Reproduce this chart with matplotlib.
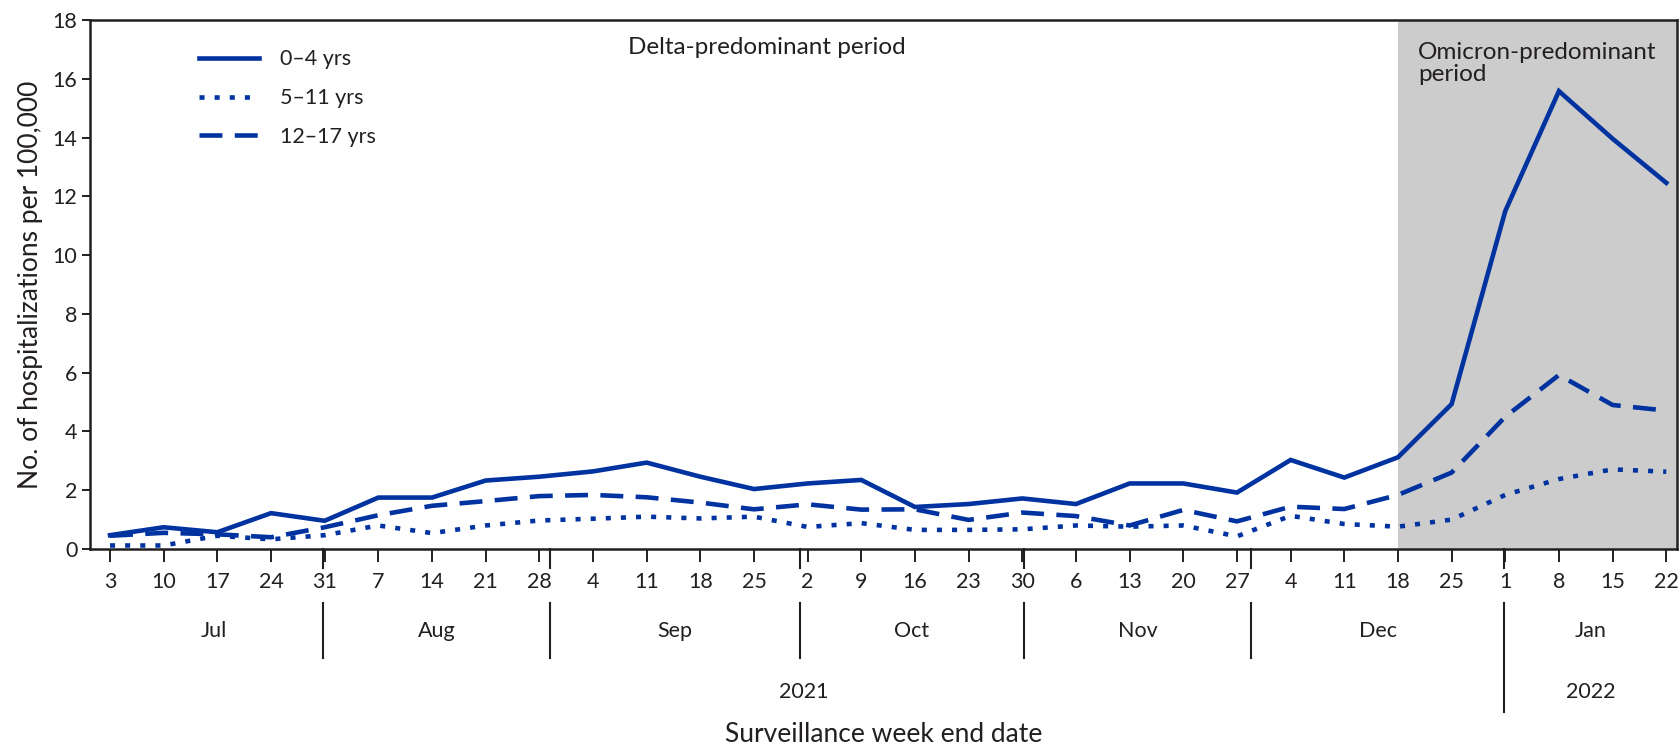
import matplotlib
matplotlib.use("Agg")
import matplotlib.pyplot as plt

plt.rcParams['font.family'] = ['Lato', 'DejaVu Sans']

# week end dates, 3 Jul 2021 .. 22 Jan 2022
day_labels = ['3', '10', '17', '24', '31', '7', '14', '21', '28', '4', '11', '18', '25',
              '2', '9', '16', '23', '30', '6', '13', '20', '27', '4', '11', '18', '25',
              '1', '8', '15', '22']
months = ['Jul', 'Aug', 'Sep', 'Oct', 'Nov', 'Dec', 'Jan']
years = ['2021', '2022']

age_0_4 = [0.47, 0.74, 0.57, 1.22, 0.96, 1.75, 1.75, 2.33, 2.46, 2.64, 2.94, 2.46, 2.04,
           2.23, 2.35, 1.43, 1.53, 1.72, 1.53, 2.23, 2.23, 1.92, 3.03, 2.43, 3.12, 4.93,
           11.5, 15.58, 13.96, 12.46]
age_5_11 = [0.12, 0.12, 0.45, 0.33, 0.47, 0.8, 0.54, 0.8, 0.97, 1.03, 1.1, 1.04, 1.1,
            0.75, 0.88, 0.65, 0.65, 0.67, 0.8, 0.76, 0.8, 0.43, 1.13, 0.85, 0.76, 1.0,
            1.84, 2.38, 2.71, 2.63]
age_12_17 = [0.45, 0.55, 0.5, 0.4, 0.74, 1.15, 1.47, 1.63, 1.8, 1.84, 1.76, 1.58, 1.35,
             1.52, 1.34, 1.35, 0.99, 1.24, 1.12, 0.8, 1.33, 0.94, 1.44, 1.36, 1.84, 2.6,
             4.5, 5.92, 4.9, 4.71]

omicron_start = 24  # week ending Dec 18

blue = '#0033a0'
ink = '#231f20'
x = list(range(len(day_labels)))

fig = plt.figure(figsize=(16.81, 7.45), dpi=100)
ax = fig.add_axes([90 / 1681, 196 / 745, 1587 / 1681, 529 / 745])
xmax = 29.2
ax.set_xlim(-0.373, xmax)
ax.set_ylim(0, 18)

ax.axvspan(omicron_start, xmax, color='#cccccc', zorder=0, lw=0)

ax.plot(x, age_0_4, color=blue, lw=3.3, solid_joinstyle='miter', label='0\u20134 yrs')
ax.plot(x, age_5_11, color=blue, lw=3.3, ls=(0, (1.1, 2.2)), dash_capstyle='butt',
        label='5\u201311 yrs')
ax.plot(x, age_12_17, color=blue, lw=3.3, ls=(0, (5, 2.7)), dash_capstyle='butt',
        label='12\u201317 yrs')

for s in ax.spines.values():
    s.set_linewidth(1.8)
    s.set_color(ink)

fs = 15.5
ax.set_yticks(range(0, 19, 2))
ax.set_xticks(x)
ax.set_xticklabels(day_labels)
ax.tick_params(axis='y', length=6, width=1.4, color=ink, labelsize=fs, labelcolor=ink, pad=3)
ax.tick_params(axis='x', length=9.5, width=1.4, color=ink, labelsize=fs, labelcolor=ink, pad=7)
ax.set_ylabel('No. of hospitalizations per 100,000', fontsize=19, color=ink, labelpad=7)

# month / year separators and labels
bounds = [-0.1, 3.97, 8.2, 12.85, 17.04, 21.27, 25.97, xmax]
tr = ax.get_xaxis_transform()
for i, b in enumerate(bounds[1:-1]):
    ax.plot([b, b], [0, -0.036], color=ink, lw=1.5, transform=tr, clip_on=False)
    low = -0.308 if i == len(bounds) - 3 else -0.206
    ax.plot([b, b], [-0.102, low], color=ink, lw=1.5, transform=tr, clip_on=False)
for i, m in enumerate(months):
    ax.text((bounds[i] + bounds[i + 1]) / 2, -0.155, m, transform=tr, ha='center',
            va='center', fontsize=fs, color=ink)
ax.text((bounds[0] + bounds[-2]) / 2, -0.27, years[0], transform=tr, ha='center',
        va='center', fontsize=fs, color=ink)
ax.text((bounds[-2] + bounds[-1]) / 2, -0.27, years[1], transform=tr, ha='center',
        va='center', fontsize=fs, color=ink)
ax.text(0.5, -0.35, 'Surveillance week end date', transform=ax.transAxes, ha='center',
        va='center', fontsize=19, color=ink)

ax.text(9.65, 17.08, 'Delta-predominant period', ha='left', va='center', fontsize=17.5,
        color=ink)
ax.text(omicron_start + 0.38, 17.25, 'Omicron-predominant\nperiod', ha='left', va='top',
        fontsize=17.5, color=ink, linespacing=1.05)

ax.legend(loc='upper left', bbox_to_anchor=(0.0687, 0.945), frameon=False, fontsize=fs,
          handlelength=2.8, handletextpad=0.95, labelspacing=0.88, borderpad=0,
          borderaxespad=0, labelcolor=ink)

fig.savefig('out.png', dpi=100)
